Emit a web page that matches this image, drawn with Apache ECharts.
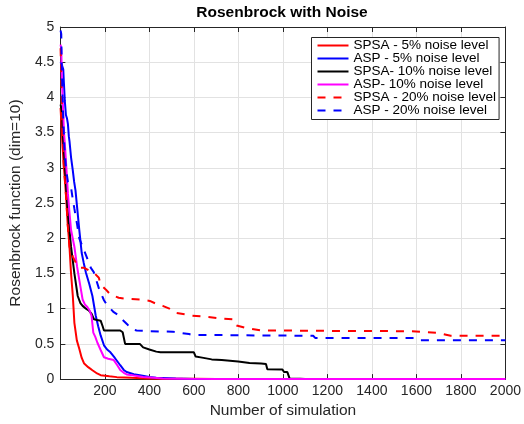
<!DOCTYPE html>
<html>
<head>
<meta charset="utf-8">
<script src="https://cdn.jsdelivr.net/npm/echarts@6/dist/echarts.min.js"></script>
<style>
  html, body { margin: 0; padding: 0; background: #fff; }
  #chart { width: 524px; height: 424px; }
</style>
</head>
<body>
<div id="chart"></div>
<script>
// Convergence traces: [number of simulations, objective value]
const spsa5 = [[1,3.85],[5,3.6],[10,3.3],[15,3.05],[20,2.85],[26,2.58],[33,2.2],[41,1.88],[48,1.5],[56,1.18],[63,0.8],[74,0.55],[85,0.43],[96,0.3],[107,0.22],[125,0.17],[144,0.126],[165,0.08],[181,0.056],[220,0.04],[254,0.028],[320,0.018],[387,0.01],[500,0.006],[600,0.004],[700,0.002],[900,0.001],[2000,0]];
const asp5 = [[1,4.5],[8,4.45],[13,4.4],[16,4.2],[20,3.95],[25,3.75],[30,3.7],[34,3.62],[38,3.45],[41,3.38],[48,3.15],[56,2.96],[62,2.8],[68,2.68],[75,2.45],[85,2.12],[96,1.79],[105,1.65],[115,1.51],[130,1.35],[144,1.18],[159,0.9],[170,0.75],[181,0.62],[196,0.48],[210,0.42],[225,0.38],[245,0.3],[269,0.197],[285,0.13],[298,0.1],[330,0.07],[357,0.056],[400,0.03],[431,0.02],[519,0.008],[600,0.003],[800,0.001],[2000,0]];
const spsa10 = [[1,3.9],[7,3.8],[12,3.45],[19,3.1],[26,2.72],[34,2.35],[48,1.88],[63,1.5],[78,1.18],[90,1.08],[100,1.04],[115,1.0],[129,0.97],[140,0.93],[151,0.85],[165,0.84],[181,0.83],[190,0.75],[196,0.69],[269,0.69],[280,0.665],[287,0.665],[291,0.5],[357,0.5],[372,0.45],[400,0.42],[431,0.39],[450,0.38],[600,0.38],[608,0.32],[637,0.305],[680,0.28],[725,0.27],[799,0.25],[850,0.23],[902,0.22],[924,0.215],[930,0.14],[998,0.136],[1005,0.1],[1020,0.1],[1030,0.01],[1078,0.004],[1100,0],[2000,0]];
const asp10 = [[1,4.75],[4,4.69],[7,4.22],[12,3.85],[16,3.52],[21,3.3],[26,3.05],[34,2.63],[40,2.4],[48,2.12],[63,1.88],[75,1.6],[85,1.41],[100,1.13],[110,1.06],[122,1.02],[132,0.97],[140,0.9],[148,0.66],[157,0.6],[166,0.52],[180,0.42],[196,0.31],[215,0.29],[240,0.27],[255,0.2],[269,0.13],[285,0.09],[298,0.066],[330,0.05],[372,0.03],[420,0.02],[460,0.01],[550,0.004],[700,0.001],[2000,0]];
const spsa20 = [[1,4.7],[5,4.2],[8,3.7],[12,3.24],[16,3.0],[26,2.58],[33,2.2],[41,1.88],[56,1.74],[70,1.65],[85,1.58],[107,1.58],[130,1.54],[151,1.51],[173,1.44],[180,1.35],[188,1.32],[205,1.27],[225,1.2],[262,1.155],[300,1.14],[360,1.13],[402,1.11],[430,1.07],[460,1.04],[490,1.0],[519,0.94],[560,0.92],[593,0.9],[637,0.89],[725,0.86],[777,0.85],[786,0.8],[792,0.76],[828,0.73],[902,0.69],[1000,0.69],[1200,0.685],[1572,0.68],[1580,0.656],[1700,0.655],[1754,0.615],[2000,0.615]];
const asp20 = [[1,4.95],[4,4.9],[6,4.5],[9,4.1],[13,3.7],[18,3.3],[25,3.0],[34,2.8],[48,2.72],[56,2.55],[63,2.42],[75,2.2],[85,2.0],[100,1.88],[115,1.76],[137,1.58],[150,1.52],[162,1.4],[175,1.27],[196,1.12],[210,1.05],[225,1.0],[240,0.95],[265,0.9],[280,0.84],[300,0.78],[313,0.73],[330,0.7],[343,0.69],[400,0.68],[505,0.674],[541,0.655],[578,0.64],[593,0.628],[900,0.62],[1136,0.615],[1145,0.585],[1594,0.585],[1605,0.56],[1620,0.55],[2000,0.55]];

const seriesNames = ['SPSA - 5% noise level', 'ASP - 5% noise level', 'SPSA- 10% noise level', 'ASP- 10% noise level', 'SPSA - 20% noise level', 'ASP - 20% noise level'];
const seriesData = [spsa5, asp5, spsa10, asp10, spsa20, asp20];
const seriesColors = ['#ff0000', '#0000ff', '#000000', '#ff00ff', '#ff0000', '#0000ff'];
const seriesDash = ['solid', 'solid', 'solid', 'solid', [8, 8], [8, 8]];

const FONT = 'Liberation Sans, Arial, Helvetica, sans-serif';
const AXIS = '#262626';
const GRID = '#e2e2e2';

const chart = echarts.init(document.getElementById('chart'), null, { renderer: 'canvas' });

function mirrorAxis(base, position) {
  return {
    type: 'value', min: base.min, max: base.max, interval: base.interval, position: position,
    axisLine: { show: true, onZero: false, lineStyle: { color: AXIS, width: 1 } },
    axisTick: { show: true, inside: true, length: 5, lineStyle: { color: AXIS } },
    axisLabel: { show: false },
    splitLine: { show: false }
  };
}

const xBase = { min: 0, max: 2000, interval: 200 };
const yBase = { min: 0, max: 5, interval: 0.5 };

chart.setOption({
  animation: false,
  backgroundColor: '#ffffff',
  title: {
    text: 'Rosenbrock with Noise',
    left: 282, top: 5, textAlign: 'center', padding: 0,
    textStyle: { fontFamily: FONT, fontSize: 15.5, fontWeight: 'bold', color: '#000' }
  },
  grid: { left: 56, right: 15.5, top: 27, bottom: 40, containLabel: false },
  legend: {
    data: seriesNames,
    orient: 'vertical',
    left: 311.5, top: 37.5,
    itemWidth: 31, itemHeight: 13, itemGap: -1,
    padding: [1, 3, 2, 5],
    borderColor: AXIS, borderWidth: 1, backgroundColor: '#ffffff',
    itemStyle: { opacity: 0 },
    textStyle: { fontFamily: FONT, fontSize: 13.5, lineHeight: 13, color: '#000' }
  },
  xAxis: [
    {
      type: 'value', min: xBase.min, max: xBase.max, interval: xBase.interval, position: 'bottom',
      name: 'Number of simulation', nameLocation: 'middle', nameGap: 20,
      nameTextStyle: { fontFamily: FONT, fontSize: 15.5, color: AXIS },
      axisLine: { show: true, onZero: false, lineStyle: { color: AXIS, width: 1 } },
      axisTick: { show: true, inside: true, length: 5, lineStyle: { color: AXIS } },
      axisLabel: { fontFamily: FONT, fontSize: 14, color: AXIS, margin: 5,
        formatter: v => (v === 0 ? '' : String(v)) },
      splitLine: { show: true, lineStyle: { color: GRID, width: 1 } }
    },
    mirrorAxis(xBase, 'top')
  ],
  yAxis: [
    {
      type: 'value', min: yBase.min, max: yBase.max, interval: yBase.interval, position: 'left',
      name: 'Rosenbrock function (dim=10)', nameLocation: 'middle', nameGap: 28,
      nameTextStyle: { fontFamily: FONT, fontSize: 15.5, color: AXIS },
      axisLine: { show: true, onZero: false, lineStyle: { color: AXIS, width: 1 } },
      axisTick: { show: true, inside: true, length: 5, lineStyle: { color: AXIS } },
      axisLabel: { fontFamily: FONT, fontSize: 14, color: AXIS, margin: 6 },
      splitLine: { show: true, lineStyle: { color: GRID, width: 1 } }
    },
    mirrorAxis(yBase, 'right')
  ],
  series: seriesNames.map((name, i) => ({
    name: name,
    type: 'line',
    xAxisIndex: 0, yAxisIndex: 0,
    data: seriesData[i],
    symbol: 'none', showSymbol: false,
    clip: false,
    z: 2 + i,
    itemStyle: { color: seriesColors[i] },
    lineStyle: { color: seriesColors[i], width: 2, type: seriesDash[i] }
  }))
});
</script>
</body>
</html>
